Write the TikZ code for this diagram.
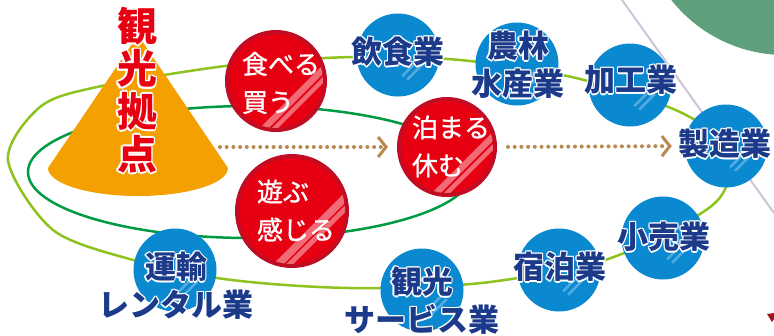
\documentclass[tikz,border=0pt]{standalone}
\usepackage{fontspec}
\newfontfamily\jp{Noto Sans CJK JP}
\newfontfamily\jpm{Noto Sans CJK JP}[FakeBold=1]
\usetikzlibrary{calc,arrows.meta}
\definecolor{cred}{HTML}{E60012}
\definecolor{credb}{HTML}{C10D24}
\definecolor{cblue}{HTML}{0A89D1}
\definecolor{cnavy}{HTML}{1C3A8A}
\definecolor{lgreen}{HTML}{8DC21F}
\definecolor{dgreen}{HTML}{009944}
\definecolor{conecol}{HTML}{F3A000}
\definecolor{dotbrown}{HTML}{B8884E}
\definecolor{bgreen}{HTML}{5E9F7C}
\definecolor{graylin}{HTML}{CAC6D6}
\definecolor{dred}{HTML}{A0141E}
\newcommand\olyr[3]{\rlap{\raisebox{#2}{\kern#1\textcolor{white}{#3}}}}
\newcommand\otxt[3]{\olyr{-#1}{0pt}{#3}\olyr{#1}{0pt}{#3}\olyr{0pt}{#1}{#3}\olyr{0pt}{-#1}{#3}\olyr{-#2}{#2}{#3}\olyr{#2}{#2}{#3}\olyr{-#2}{-#2}{#3}\olyr{#2}{-#2}{#3}#3}
\newcommand\bt[1]{\otxt{1.3pt}{0.9pt}{#1}}
\newcommand\stripes[6]{%
  \begin{scope}
  \clip (#1.center) circle[radius=#2];
  \draw[#6, line width=#5pt] ($(#1.center)+({0.7071*(#3-#4)},{0.7071*(#3+#4)})$) -- ($(#1.center)+({0.7071*(#3+#4)},{0.7071*(#3-#4)})$);
  \end{scope}}
\tikzset{
  rcirc/.style={circle, fill=cred, draw=credb, line width=4pt, inner sep=0pt, minimum size=#1},
  bcirc/.style={circle, fill=cblue, inner sep=0pt, minimum size=83pt},
  rtext/.style={text=white, font=\jpm\fontsize{26}{38}\selectfont, align=left, inner sep=0pt},
  btext/.style={text=cnavy, font=\jp\bfseries\fontsize{31}{38}\selectfont, align=center, inner sep=0pt},
  vtext/.style={text=cred, font=\jp\bfseries\fontsize{40}{40.5}\selectfont, align=center, inner sep=0pt},
  rstripe/.style={white, opacity=0.42},
  bstripe/.style={white, opacity=0.3},
  dotarrow/.style={dotbrown, line width=4pt, line cap=round, dash pattern=on 0pt off 6.7pt,
    -{Straight Barb[length=8pt,width=20pt,line width=3pt]}},
  ring/.style={line width=2.5pt}
}
\begin{document}
\begin{tikzpicture}[x=1pt,y=-1pt]
\useasboundingbox (0,0) rectangle (774,335);
\clip (0,0) rectangle (774,335);
% background decorations
\fill[bgreen] (785,-90) circle[radius=145];
\draw[graylin, line width=2pt] (622,0) -- (774,213);
\fill[dred] (767,314) -- (774,313) -- (774,319) -- (772,322) -- cycle;
% rings
\draw[ring, lgreen] plot[smooth cycle] coordinates {(8,160) (40,107) (97,87) (233,65) (353,57) (460,60) (576,78) (680,112) (728,150) (715,203) (611,258) (490,282) (380,288) (300,286) (217,278) (133,260) (53,230)};
\draw[ring, dgreen] (250,172) ellipse[x radius=222, y radius=66];
% cone
\fill[conecol] (138,35) -- (48,168) arc[start angle=180, end angle=360, x radius=90pt, y radius=28pt] -- cycle;
% red circles
\node[rcirc=98pt] (taberu) at (276,81) {};
\node[rcirc=96pt] (tomaru) at (447,147) {};
\node[rcirc=110pt] (asobu) at (292,211) {};
\stripes{taberu}{47}{25}{60}{6.5}{rstripe}
\stripes{taberu}{47}{32.5}{60}{4.5}{rstripe}
\stripes{tomaru}{46}{25}{60}{6.5}{rstripe}
\stripes{tomaru}{46}{32.5}{60}{4.5}{rstripe}
\stripes{asobu}{53}{28}{60}{7.5}{rstripe}
\stripes{asobu}{53}{36}{60}{5}{rstripe}
% blue circles
\node[bcirc] (inshoku) at (398,55) {};
\node[bcirc] (nourin) at (517,64) {};
\node[bcirc] (kakou) at (630,85) {};
\node[bcirc] (seizou) at (726,146) {};
\node[bcirc] (kouri) at (663,238) {};
\node[bcirc] (shukuhaku) at (559,270) {};
\node[bcirc] (kankou) at (422,290) {};
\node[bcirc] (unyu) at (175,270) {};
\foreach \n in {inshoku,nourin,kakou,seizou,kouri,shukuhaku,kankou,unyu}{
  \stripes{\n}{41}{18}{12}{2.5}{bstripe}
  \stripes{\n}{41}{24}{11}{2.5}{bstripe}
}
% arrows
\coordinate (a1) at (220,147);
\draw[dotarrow, shorten >=9pt] (a1) -- (tomaru.west);
\draw[dotarrow, shorten <=11pt, shorten >=12.5pt] (tomaru.east) -- (seizou.west);
% texts
\node[vtext] (kyoten) at (137,90) {\otxt{1.8pt}{1.3pt}{観}\\\otxt{1.8pt}{1.3pt}{光}\\\otxt{1.8pt}{1.3pt}{拠}\\\otxt{1.8pt}{1.3pt}{点}};
\node[rtext] (taberuT) at (281,83) {食べる\\買う};
\node[rtext] (tomaruT) at (451,146.5) {泊まる\\休む};
\node[rtext] (asobuT) at (296,210.5) {遊ぶ\\感じる};
\node[btext] (inshokuT) at (398,52) {\bt{飲食業}};
\node[btext] (nourinT) at (518,65) {\bt{農林}\\\bt{水産業}};
\node[btext] (kakouT) at (631,80) {\bt{加工業}};
\node[btext] (seizouT) at (725,144) {\bt{製造業}};
\node[btext] (kouriT) at (664,237) {\bt{小売業}};
\node[btext] (shukuhakuT) at (560,267) {\bt{宿泊業}};
\node[btext] (unyuT) at (176,286) {\bt{運輸}\\\bt{レンタル業}};
\node[btext] (kankouT) at (422,301) {\bt{観光}\\\bt{サービス業}};
\end{tikzpicture}
\end{document}
